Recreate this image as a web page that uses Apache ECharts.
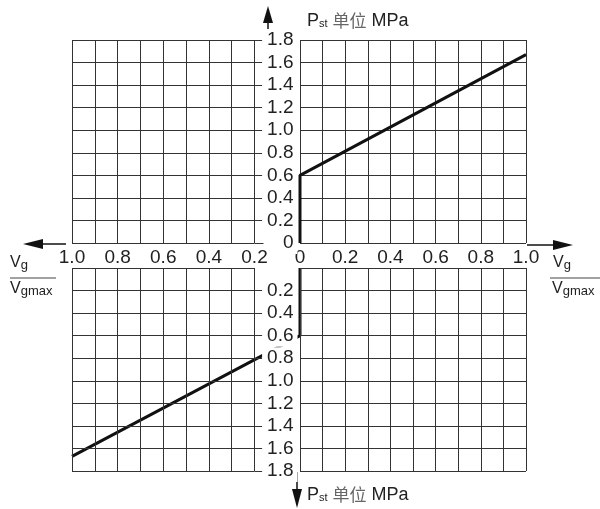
<!DOCTYPE html>
<html>
<head>
<meta charset="utf-8">
<script src="https://cdn.jsdelivr.net/npm/echarts@6/dist/echarts.min.js"></script>
<style>
  html, body { margin: 0; padding: 0; background: #fff; }
  #chart { width: 600px; height: 509px; }
</style>
</head>
<body>
<div id="chart"></div>
<script>
// Vg/Vgmax against Pst, drawn mirrored in the upper-right and lower-left quadrants
const ratio = [0, 0, 1.0];
const pressure = [0, 0.6, 1.67];
const ratioLabels = ['0', '0.2', '0.4', '0.6', '0.8', '1.0'];
const pressureLabels = ['0', '0.2', '0.4', '0.6', '0.8', '1.0', '1.2', '1.4', '1.6', '1.8'];
const pressureTitle = 'P{s|st} {c|单位} MPa';
const ratioTitle = ['V{s|g}', 'V{s|gmax}'];

const font = 'Liberation Sans, Arial, sans-serif';
const gridColor = '#333';
const curveColor = '#111';

function fmt(v) {
    const a = Math.abs(v);
    return a < 1e-9 ? '0' : a.toFixed(1);
}
function ratioLabel(v) {
    const s = fmt(v);
    return ratioLabels.includes(s) ? s : '';
}
function pressureLabel(v) {
    const s = fmt(v);
    return pressureLabels.includes(s) ? s : '';
}

const split = {show: true, lineStyle: {color: gridColor, width: 1}};

function xAxis(idx, left, labels) {
    return {
        type: 'value', gridIndex: idx, position: 'bottom',
        min: left ? -1 : 0, max: left ? -0.2 : 1, interval: 0.1,
        axisLine: {show: false}, axisTick: {show: false},
        axisLabel: {show: labels, formatter: ratioLabel, margin: 5, fontSize: 19, fontFamily: font, color: '#222'},
        splitLine: split
    };
}
function yAxis(idx, inverse, labels) {
    return {
        type: 'value', gridIndex: idx, inverse: inverse,
        position: labels ? 'right' : 'left',
        min: 0, max: 1.8, interval: 0.2, z: labels ? 3 : 0,
        axisLine: {show: false},
        axisTick: {show: labels, inside: false, length: 9, lineStyle: {color: gridColor, width: 1}},
        axisLabel: {
            show: labels, showMinLabel: !inverse, showMaxLabel: true, formatter: pressureLabel,
            align: 'right', margin: 43, fontSize: 19, fontFamily: font, color: '#222',
            backgroundColor: '#fff', padding: [2, 4, 2, 5], lineHeight: 18
        },
        splitLine: split
    };
}
// plain axes for the grid that only carries the lower curve
const hiddenX = (idx, min, max) => ({type: 'value', gridIndex: idx, min: min, max: max, show: false});
const hiddenY = (idx, inverse) => ({type: 'value', gridIndex: idx, min: 0, max: 1.8, inverse: inverse, show: false});

const curveStyle = {
    type: 'line', symbol: 'none', clip: false, silent: true,
    lineStyle: {color: curveColor, width: 3}
};

var myChart = echarts.init(document.getElementById('chart'));
var option = {
    animation: false,
    grid: [
        {left: 72, top: 40, width: 182.5, height: 203},
        {left: 300, top: 40, width: 226, height: 203},
        {left: 72, top: 268, width: 182.5, height: 203},
        {left: 300, top: 268, width: 226, height: 203},
        {left: 72, top: 268, width: 228, height: 203}
    ],
    xAxis: [xAxis(0, true, true), xAxis(1, false, true), xAxis(2, true, false), xAxis(3, false, false),
        hiddenX(4, -1, 0)],
    yAxis: [yAxis(0, false, true), yAxis(1, false, false), yAxis(2, true, true), yAxis(3, true, false),
        hiddenY(4, true)],
    series: [
        Object.assign({}, curveStyle, {xAxisIndex: 1, yAxisIndex: 1, data: ratio.map((r, i) => [r, pressure[i]])}),
        // the part behind the tick labels is hidden by their white boxes
        Object.assign({}, curveStyle, {xAxisIndex: 4, yAxisIndex: 4, z: -1, data: ratio.map((r, i) => [-r, pressure[i]])})
    ],
    graphic: [
        // arrows
        {type: 'polyline', shape: {points: [[268, 20], [268, 31]]}, style: {stroke: '#111', lineWidth: 1.5}},
        {type: 'polygon', shape: {points: [[268, 6], [263, 23], [273, 23]]}, style: {fill: '#111'}},
        {type: 'polyline', shape: {points: [[297, 472], [297, 492]]}, style: {stroke: '#111', lineWidth: 1.5}},
        {type: 'polygon', shape: {points: [[297, 508], [292, 489], [302, 489]]}, style: {fill: '#111'}},
        {type: 'polyline', shape: {points: [[40, 244], [66, 244]]}, style: {stroke: '#111', lineWidth: 1.5}},
        {type: 'polygon', shape: {points: [[23, 244], [43, 239], [43, 249]]}, style: {fill: '#111'}},
        {type: 'polyline', shape: {points: [[527, 245], [556, 245]]}, style: {stroke: '#111', lineWidth: 1.5}},
        {type: 'polygon', shape: {points: [[573, 245], [553, 240], [553, 250]]}, style: {fill: '#111'}},
        // axis titles
        {type: 'text', left: 307, top: 12, style: {
            text: pressureTitle, fontSize: 18, fontFamily: font, fill: '#222',
            rich: {s: {fontSize: 11, fontFamily: font, fill: '#222', padding: [6, 0, 0, 0]},
                   c: {fontSize: 17, fontFamily: 'Noto Sans CJK SC', fill: '#666'}}
        }},
        {type: 'text', left: 307, top: 486, style: {
            text: pressureTitle, fontSize: 18, fontFamily: font, fill: '#222',
            rich: {s: {fontSize: 11, fontFamily: font, fill: '#222', padding: [6, 0, 0, 0]},
                   c: {fontSize: 17, fontFamily: 'Noto Sans CJK SC', fill: '#666'}}
        }},
        {type: 'text', left: 10, top: 255, style: {text: ratioTitle[0], fontSize: 16, fontFamily: font, fill: '#222',
            rich: {s: {fontSize: 13, fontFamily: font, fill: '#222', padding: [4, 0, 0, 0]}}}},
        {type: 'polyline', shape: {points: [[10, 278], [56, 278]]}, style: {stroke: '#444', lineWidth: 1}},
        {type: 'text', left: 10, top: 281, style: {text: ratioTitle[1], fontSize: 16, fontFamily: font, fill: '#222',
            rich: {s: {fontSize: 13, fontFamily: font, fill: '#222', padding: [4, 0, 0, 0]}}}},
        {type: 'text', left: 553, top: 255, style: {text: ratioTitle[0], fontSize: 16, fontFamily: font, fill: '#222',
            rich: {s: {fontSize: 13, fontFamily: font, fill: '#222', padding: [4, 0, 0, 0]}}}},
        {type: 'polyline', shape: {points: [[550, 278], [600, 278]]}, style: {stroke: '#444', lineWidth: 1}},
        {type: 'text', left: 552, top: 281, style: {text: ratioTitle[1], fontSize: 16, fontFamily: font, fill: '#222',
            rich: {s: {fontSize: 13, fontFamily: font, fill: '#222', padding: [4, 0, 0, 0]}}}}
    ]
};
myChart.setOption(option);
</script>
</body>
</html>
